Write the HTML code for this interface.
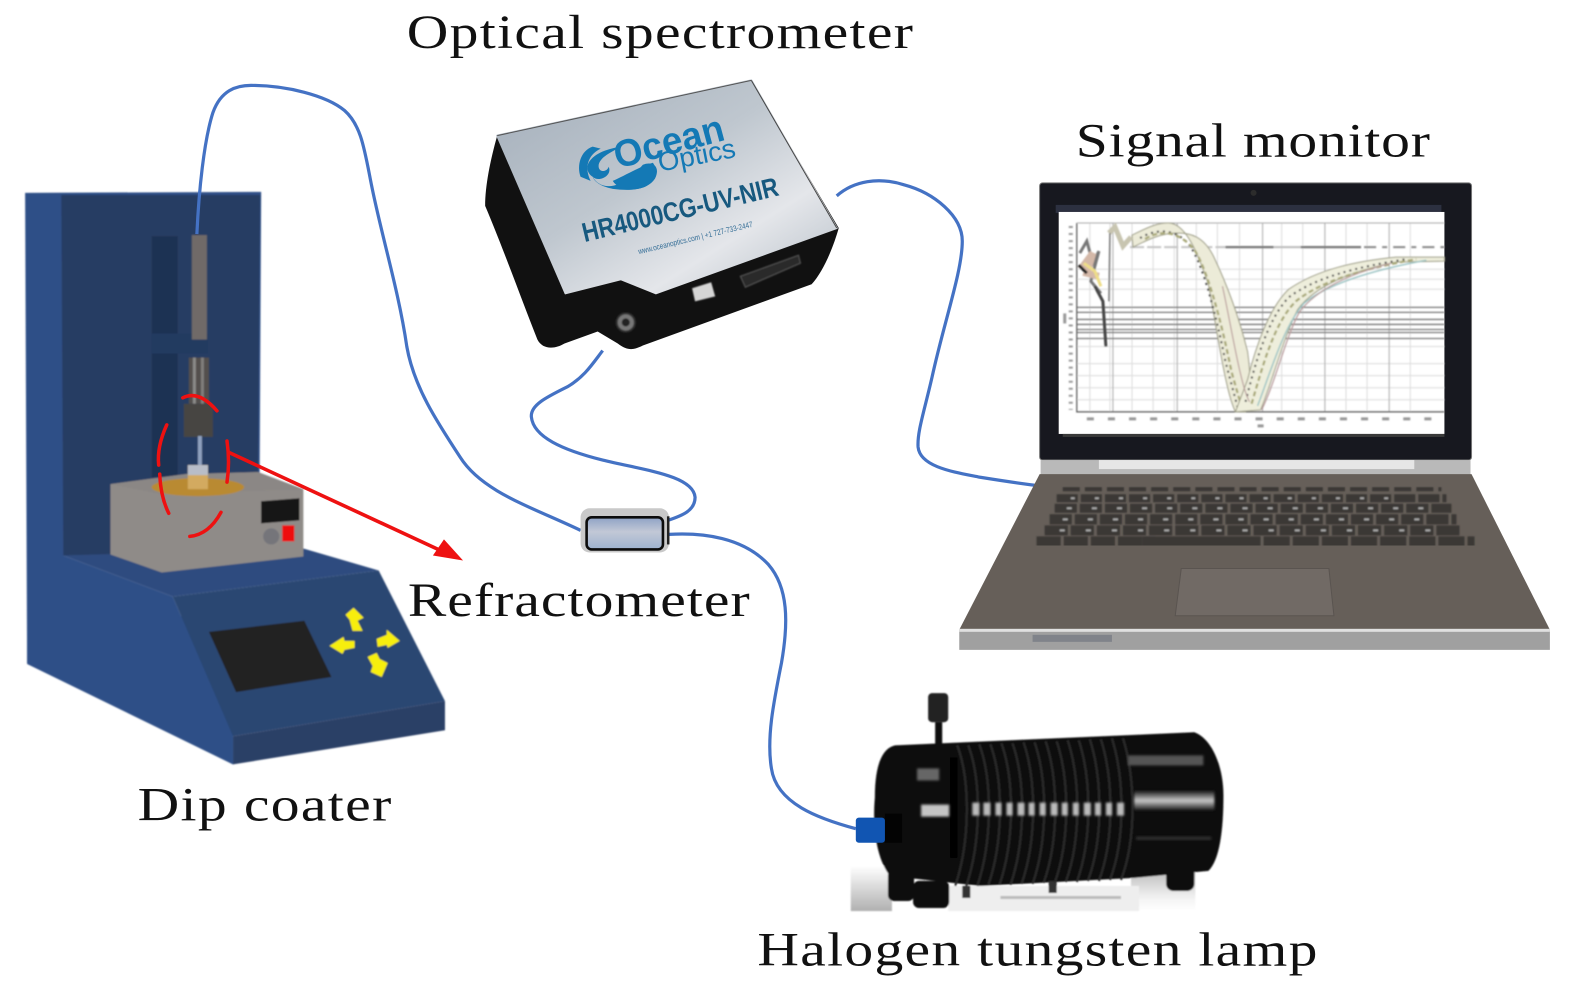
<!DOCTYPE html>
<html><head><meta charset="utf-8"><style>
html,body{margin:0;padding:0;background:#fff}
svg{display:block}
text{font-family:"Liberation Serif",serif;fill:#111}
.l{font-size:47px}
.s{font-family:"Liberation Sans",sans-serif}
</style></head><body>
<svg width="1575" height="984" viewBox="0 0 1568 979.6" xmlns="http://www.w3.org/2000/svg">
<defs>
<linearGradient id="top" x1="0" y1="0" x2="1" y2="1"><stop offset="0" stop-color="#a3aeba"/><stop offset=".45" stop-color="#bfc7cf"/><stop offset=".72" stop-color="#e4e6ea"/><stop offset="1" stop-color="#b4bdc6"/></linearGradient>
<linearGradient id="ref" x1="0" y1="0" x2="0" y2="1"><stop offset="0" stop-color="#8ea2c5"/><stop offset=".45" stop-color="#c2c8d6"/><stop offset="1" stop-color="#9db2cf"/></linearGradient>
<linearGradient id="floorL" x1="0" y1="0" x2="0" y2="1"><stop offset="0" stop-color="#fff"/><stop offset="1" stop-color="#b0b0b0"/></linearGradient>
<linearGradient id="floorR" x1="0" y1="0" x2="0" y2="1"><stop offset="0" stop-color="#bdbdbd"/><stop offset=".7" stop-color="#f4f4f4"/><stop offset="1" stop-color="#fff"/></linearGradient>
<linearGradient id="hl" x1="0" y1="0" x2="0" y2="1"><stop offset="0" stop-color="#111"/><stop offset=".5" stop-color="#c8c8c8"/><stop offset="1" stop-color="#111"/></linearGradient>
<filter id="b" x="-5%" y="-5%" width="110%" height="110%"><feGaussianBlur stdDeviation=".7"/></filter>
<filter id="b2" x="-20%" y="-20%" width="140%" height="140%"><feGaussianBlur stdDeviation="1.2"/></filter>
</defs>

<!-- Dip coater -->
<g filter="url(#b)">
<polygon points="25,192 260,191 258,560 63,553 232,640 232,761 27,661" fill="#2e4f87"/>
<polygon points="61,194 259,194 257,470 302,548 63,553" fill="#283d64"/>
<polygon points="63,553 302,546 377,568 172,594" fill="#2e4b7f"/>
<polygon points="27,660 27,400 63,553 172,594 232,733 232,761" fill="#2e4f87"/>
<polygon points="172,594 377,568 443,698 232,733" fill="#2c4672"/>
<polygon points="232,733 443,698 443,727 232,761" fill="#2a3f66"/>
<polygon points="208,629 303,618 330,674 235,689" fill="#232323"/>
<g fill="#f7ee10">
<polygon points="344,612 352,605 362,615 356,618 361,628 351,628 348,617"/>
<polygon points="375,636 385,632 385,627 398,638 386,645 385,642 376,644"/>
<polygon points="328,643 342,634 343,638 353,638 353,645 343,647 341,651"/>
<polygon points="366,654 375,650 378,656 386,660 380,674 369,669 371,663"/>
</g>
<rect x="151" y="235" width="26" height="240" fill="#1f3052"/>
<rect x="151" y="332" width="56" height="20" fill="#243a60"/>
<rect x="191" y="234" width="15" height="104" fill="#6f6a68"/>
<rect x="188" y="356" width="20" height="46" fill="#524f4d"/>
<rect x="192" y="356" width="3" height="46" fill="#8a8a88"/><rect x="200" y="356" width="3" height="46" fill="#807e7c"/>
<rect x="183" y="402" width="29" height="33" fill="#474542"/>
<rect x="197" y="434" width="4" height="32" fill="#8fa0bd"/>
<polygon points="110,482 185,472 257,470 302,487 302,554 161,570 110,552" fill="#8f8b88"/>
<polygon points="110,482 185,472 257,470 302,487 161,492" fill="#8b8785"/>
<ellipse cx="197" cy="485" rx="46" ry="9" fill="#b98a33"/>
<rect x="187" y="463" width="20" height="24" fill="#d3aa60"/><rect x="187" y="463" width="20" height="10" fill="#b8bdc8"/>
<polygon points="260,499 298,496 298,518 260,521" fill="#151515"/>
<circle cx="270" cy="534" r="8" fill="#74757a"/>
<rect x="281" y="523" width="12" height="16" fill="#ee1010"/>
</g>
<g fill="none" stroke="#ee1111" stroke-width="3.5" stroke-linecap="round">
<path d="M182,396 Q198,388 216,409"/>
<path d="M166,423 Q156,445 158,463"/>
<path d="M159,472 Q160,495 168,511"/>
<path d="M226,439 Q229,460 226,480"/>
<path d="M220,510 Q208,532 189,534"/>
</g>
<line x1="227" y1="450" x2="445" y2="551" stroke="#ee1111" stroke-width="3.6"/>
<polygon points="461,558 431,553 442,537" fill="#ee1111"/>

<!-- Fibres -->
<g fill="none" stroke="#4472c4" stroke-width="3.2">
<path d="M196,233 C198,190 203,140 212,112 C220,90 235,85 250,85 C285,85 325,95 343,110 C360,125 363,150 370,185 C380,235 397,290 405,345 C412,385 435,420 458,455 C480,490 530,505 578,528"/>
<path d="M600,349 C590,362 582,375 565,385 C545,395 528,403 529,415 C531,435 560,448 600,458 C640,468 690,473 692,495 C692,508 680,513 665,518"/>
<path d="M666,532 C700,530 740,535 765,562 C785,585 785,620 778,660 C770,700 763,735 768,765 C773,800 815,815 852,825"/>
<path d="M833,195 C850,180 875,176 900,184 C930,192 958,215 958,240 C958,270 940,320 928,375 C920,410 913,430 914,445 C916,465 950,470 975,475 C1000,479 1020,482 1038,484"/>
</g>

<!-- Spectrometer -->
<path d="M495,135 C488,160 483,185 483,205 C500,245 520,300 535,338 C540,348 552,348 562,342 L595,330 L615,342 C625,350 632,348 640,344 L808,283 C820,270 830,245 835,227 L748,80 Z" fill="#111"/>
<polygon points="495,135 748,80 833,227 653,292 618,278 563,292" fill="url(#top)" stroke="url(#top)" stroke-linejoin="round" stroke-width="2"/>
<path d="M748,80 L833,227" stroke="#444" stroke-width="1" fill="none"/>
<path d="M495,135 L748,80" stroke="#555" stroke-width="1" fill="none"/>
<g filter="url(#b)">
<circle cx="623" cy="321" r="9" fill="#777" stroke="#333" stroke-width="2"/><circle cx="623" cy="321" r="4" fill="#222"/>
<polygon points="689,287 708,281 712,295 692,300" fill="#d5d5d5"/>
<polygon points="737,275 795,254 797,262 742,286" fill="#2a2a2a" stroke="#555"/>
</g>
<g fill="#1479b5">
<path d="M590,146 C578,150 574,165 578,176 L588,180 C582,168 584,155 598,148 Z"/>
<path d="M586,162 C592,152 606,148 618,146 C608,152 598,156 596,164 C595,172 604,172 606,166 C610,175 596,182 590,176 C584,172 584,166 586,162 Z"/>
<path d="M590,176 C598,190 618,190 640,164 C650,160 658,166 652,178 C644,190 626,190 610,188 C600,186 592,182 590,176 Z"/>
<path d="M610,180 C620,176 636,166 650,162 C656,170 652,180 642,186 C632,190 616,190 610,180 Z"/>
</g>
<text transform="translate(615,168) rotate(-15)" class="s" font-size="38" font-weight="700" style="fill:#1479b5" textLength="112" lengthAdjust="spacingAndGlyphs">Ocean</text>
<text transform="translate(657,171) rotate(-11)" class="s" font-size="27" style="fill:#1479b5" textLength="78" lengthAdjust="spacingAndGlyphs">Optics</text>
<text transform="translate(582,241) rotate(-13.5)" class="s" font-size="27" font-weight="700" style="fill:#17597f" textLength="200" lengthAdjust="spacingAndGlyphs">HR4000CG-UV-NIR</text>
<text transform="translate(636,253) rotate(-13.5)" class="s" font-size="8" style="fill:#336d96" textLength="117" lengthAdjust="spacingAndGlyphs">www.oceanoptics.com | +1 727-733-2447</text>

<!-- Refractometer -->
<rect x="578" y="506" width="88" height="44" rx="9" fill="#c9c9c9"/>
<rect x="584" y="515" width="76" height="32" rx="5" fill="url(#ref)" stroke="#0c0c0c" stroke-width="2.6"/>
<rect x="664" y="514" width="2.5" height="28" fill="#222"/>

<!-- Laptop -->
<rect x="1035" y="182" width="430" height="276" rx="3" fill="#17181f" stroke="#777" stroke-width="1"/>
<rect x="1051" y="204" width="384" height="8" fill="#2c3040"/>
<circle cx="1248" cy="192" r="3" fill="#2c2c2c"/>
<rect x="1054" y="211" width="384" height="221" fill="#fff"/>
<rect x="1058" y="432" width="380" height="3" fill="#3a3a3a"/>
<g filter="url(#b)">
<g stroke="#dcdcdc" stroke-width="1" fill="none">
<path d="M1085,222V410M1105,222V410M1127,222V410M1148,222V410M1169,222V410M1191,222V410M1212,222V410M1234,222V410M1276,222V410M1297,222V410M1340,222V410M1361,222V410M1404,222V410"/>
<path d="M1072,268H1438M1072,278H1438M1072,288H1438M1072,345H1438M1072,362H1438M1072,374H1438M1072,386H1438M1072,398H1438"/>
</g>
<g stroke="#aaa" stroke-width="1" fill="none"><path d="M1108,222V410M1172,222V410M1257,222V410M1319,222V410M1383,222V410"/></g>
<g stroke="#777" stroke-width="1.3" fill="none"><path d="M1072,306H1438M1072,311H1438M1072,318H1438M1072,323H1438M1072,328H1438M1072,331H1438M1072,337H1438"/></g>
<path d="M1072,222V410H1438" fill="none" stroke="#555" stroke-width="1.2"/>
<path d="M1072,222H1438" fill="none" stroke="#aaa" stroke-width="1"/>
<g stroke="#999" fill="none">
<line x1="1066" y1="225" x2="1066" y2="408" stroke-width="4" stroke-dasharray="2 5"/>
<line x1="1082" y1="417" x2="1438" y2="417" stroke-width="3" stroke-dasharray="7 14"/>
<line x1="1252" y1="424" x2="1258" y2="424" stroke-width="3"/>
<line x1="1060" y1="312" x2="1060" y2="322" stroke-width="3"/>
</g>
<line x1="1125" y1="246" x2="1220" y2="246" stroke="#c4c4c4" stroke-width="2" stroke-dasharray="14 3"/>
<line x1="1220" y1="246" x2="1268" y2="246" stroke="#777" stroke-width="2.2"/>
<line x1="1268" y1="246" x2="1295" y2="246" stroke="#bbb" stroke-width="2"/>
<line x1="1295" y1="246" x2="1355" y2="246" stroke="#777" stroke-width="2.2"/>
<line x1="1358" y1="246" x2="1438" y2="246" stroke="#888" stroke-width="2" stroke-dasharray="12 6 5 6"/>
<!-- band: descending lobe -->
<path d="M1127,234 C1140,228 1150,222 1163,222 C1180,222 1192,250 1203,283 C1212,330 1220,390 1230,410 L1240,410 C1245,395 1246,380 1242,350 C1232,310 1220,280 1208,255 C1198,235 1185,232 1172,232 C1155,232 1140,240 1128,246 Z" fill="#ecebd8" stroke="#9b9b84" stroke-width="1"/>
<path d="M1135,237 C1150,228 1170,226 1185,245 C1198,265 1210,310 1220,360 L1232,405" fill="none" stroke="#444" stroke-width="2" stroke-dasharray="2 4"/>
<path d="M1140,238 C1155,228 1175,230 1190,250 C1203,272 1216,320 1226,370 L1236,405" fill="none" stroke="#a8a877" stroke-width="2.2" stroke-dasharray="5 3"/>
<!-- band: ascending lobe -->
<path d="M1230,410 L1255,408 C1265,385 1278,335 1292,308 C1310,284 1345,270 1390,261 L1438,260 L1438,256 L1390,256 C1350,260 1312,268 1283,288 C1264,306 1250,345 1242,378 Z" fill="#eeeedc" stroke="#9b9b84" stroke-width="1"/>
<path d="M1240,400 C1250,360 1262,318 1283,296 C1310,276 1350,266 1400,258" fill="none" stroke="#444" stroke-width="2" stroke-dasharray="2 4"/>
<path d="M1246,402 C1257,365 1268,322 1290,300 C1315,280 1355,268 1410,258" fill="none" stroke="#a8a877" stroke-width="2.2" stroke-dasharray="5 3"/>
<path d="M1252,404 C1265,370 1278,325 1298,302 C1320,284 1360,270 1420,259" fill="none" stroke="#9cc4c4" stroke-width="1.4"/>
<path d="M1256,408 C1270,380 1280,335 1294,310 C1312,287 1345,272 1385,262" fill="none" stroke="#b89a9a" stroke-width="1.2"/>
<path d="M1217,285 C1225,320 1235,385 1244,400" fill="none" stroke="#b89a9a" stroke-width="1.1"/>
<!-- left scribble -->
<path d="M1104,232 L1110,226 L1118,245 L1126,236" fill="none" stroke="#c8c5b0" stroke-width="5"/>
<path d="M1075,252 L1082,240 1088,262 1094,250 1086,280 1096,292" fill="none" stroke="#777" stroke-width="3"/>
<path d="M1076,268 L1088,252 1082,272 1094,275" fill="none" stroke="#d4b8a8" stroke-width="7"/>
<path d="M1079,262 L1090,270 1096,285" fill="none" stroke="#eedd88" stroke-width="3"/>
<path d="M1074,264 L1082,272" fill="none" stroke="#222" stroke-width="3"/>
<path d="M1090,285 L1098,300 1101,345" fill="none" stroke="#444" stroke-width="3"/>
<path d="M1105,232 L1104,300" fill="none" stroke="#777" stroke-width="1.5"/>
</g>
<!-- Hinge and base -->
<rect x="1036" y="458" width="428" height="15" fill="#b9b9b9"/>
<rect x="1094" y="458" width="314" height="9" fill="#e6e6e6"/>
<polygon points="1035,472 1465,472 1543,627 955,627" fill="#665f59"/>
<g fill="none" stroke="#3a3735" filter="url(#b)">
<line x1="1058" y1="487" x2="1435" y2="487" stroke-width="4" stroke-dasharray="17 5"/>
<line x1="1052" y1="496" x2="1440" y2="496" stroke-width="8" stroke-dasharray="21 3"/>
<line x1="1050" y1="506" x2="1445" y2="506" stroke-width="9" stroke-dasharray="22 3"/>
<line x1="1045" y1="517" x2="1450" y2="517" stroke-width="10" stroke-dasharray="22 3"/>
<line x1="1040" y1="528" x2="1455" y2="528" stroke-width="10" stroke-dasharray="23 3"/>
<line x1="1032" y1="540" x2="1150" y2="540" stroke-width="12" stroke-dasharray="24 3"/>
<line x1="1137" y1="540" x2="1255" y2="540" stroke-width="12"/>
<line x1="1258" y1="540" x2="1468" y2="540" stroke-width="12" stroke-dasharray="26 3"/>
<g stroke="#aaa" stroke-width="2">
<line x1="1066" y1="496" x2="1400" y2="496" stroke-dasharray="4 20"/>
<line x1="1062" y1="506" x2="1430" y2="506" stroke-dasharray="5 20"/>
<line x1="1058" y1="517" x2="1430" y2="517" stroke-dasharray="5 20"/>
<line x1="1055" y1="528" x2="1430" y2="528" stroke-dasharray="5 21"/>
</g>
</g>
<polygon points="1176,566 1323,566 1328,613 1170,613" fill="#716a65" stroke="#5a5450"/>
<polygon points="955,627 1543,627 1543,647 955,647" fill="#a0a0a0"/>
<rect x="955" y="626" width="588" height="3" fill="#e0e0e0"/>
<rect x="1028" y="632" width="79" height="7" fill="#80838a"/>

<!-- Lamp -->
<g transform="translate(-4,-3)">
<g filter="url(#b)">
<rect x="851" y="865" width="41" height="45" fill="url(#floorL)"/>
<rect x="1130" y="870" width="64" height="40" fill="url(#floorR)"/>
<rect x="948" y="885" width="190" height="25" fill="#eee"/>
<rect x="1000" y="895" width="120" height="3" fill="#bbb"/>
<path d="M875,797 C875,765 882,748 895,745 L1193,732 C1210,738 1222,765 1222,795 C1222,830 1218,860 1207,870 L1133,877 L980,885 L890,875 C878,860 872,830 875,797 Z" fill="#0c0c0c"/>
<rect x="888" y="868" width="26" height="32" rx="6" fill="#0c0c0c"/>
<rect x="913" y="880" width="36" height="27" rx="6" fill="#0c0c0c"/>
<rect x="1165" y="866" width="28" height="24" rx="7" fill="#0c0c0c"/>
<rect x="962" y="885" width="8" height="12" fill="#333"/><rect x="1048" y="880" width="8" height="12" fill="#333"/>
<rect x="928" y="693" width="20" height="29" rx="4" fill="#222"/>
<rect x="935" y="722" width="7" height="25" fill="#111"/>
<rect x="950" y="757" width="7" height="100" fill="#000"/>
<g fill="none" stroke="#2b2b2b" stroke-width="2.2">
<path d="M957,745 C970,780 970,840 955,885M968,745 C981,780 981,840 966,885M979,744 C992,780 992,840 977,885M990,744 C1003,780 1003,840 988,884M1001,743 C1014,780 1014,840 999,884M1012,743 C1025,780 1025,840 1010,884M1023,742 C1036,780 1036,840 1021,883M1034,742 C1047,780 1047,840 1032,883M1045,741 C1058,780 1058,840 1043,882M1056,741 C1069,780 1069,840 1054,882M1067,740 C1080,780 1080,840 1065,881M1078,740 C1091,780 1091,840 1076,881M1089,739 C1102,780 1102,840 1087,880M1100,739 C1113,780 1113,840 1098,880M1111,738 C1124,780 1124,840 1109,879M1122,738 C1135,780 1135,840 1120,879"/>
</g>
</g>
<g filter="url(#b2)">
<rect x="917" y="768" width="22" height="12" fill="#666"/>
<rect x="921" y="804" width="28" height="12" fill="#c4c4c4"/>
<g fill="#bcbcbc">
<rect x="972" y="802" width="7" height="13"/><rect x="983" y="802" width="7" height="13"/><rect x="995" y="802" width="6" height="13"/><rect x="1006" y="802" width="6" height="13"/><rect x="1017" y="802" width="7" height="13"/><rect x="1028" y="802" width="6" height="13"/><rect x="1039" y="802" width="6" height="13"/><rect x="1050" y="802" width="7" height="13"/><rect x="1061" y="802" width="6" height="13"/><rect x="1072" y="802" width="6" height="13"/><rect x="1083" y="802" width="7" height="13"/><rect x="1094" y="802" width="6" height="13"/><rect x="1105" y="802" width="6" height="13"/><rect x="1116" y="802" width="7" height="13"/>
</g>
<rect x="1127" y="755" width="75" height="10" fill="#555"/>
<rect x="1133" y="790" width="80" height="20" fill="url(#hl)"/>
<rect x="1135" y="836" width="75" height="3" fill="#333"/>
</g>
<rect x="885" y="813" width="17" height="29" fill="#030303"/>
<rect x="856" y="817" width="29" height="25" rx="3" fill="#1155b2"/>
</g>

<!-- Labels -->
<text transform="translate(405,48) scale(1.22,1)" class="l" textLength="413" lengthAdjust="spacing">Optical spectrometer</text>
<text transform="translate(1071,156) scale(1.22,1)" class="l" textLength="289" lengthAdjust="spacing">Signal monitor</text>
<text transform="translate(406,613) scale(1.22,1)" class="l" textLength="279" lengthAdjust="spacing">Refractometer</text>
<text transform="translate(137,817) scale(1.22,1)" class="l" textLength="207" lengthAdjust="spacing">Dip coater</text>
<text transform="translate(754,961) scale(1.22,1)" class="l" textLength="457" lengthAdjust="spacing">Halogen tungsten lamp</text>
</svg>
</body></html>
